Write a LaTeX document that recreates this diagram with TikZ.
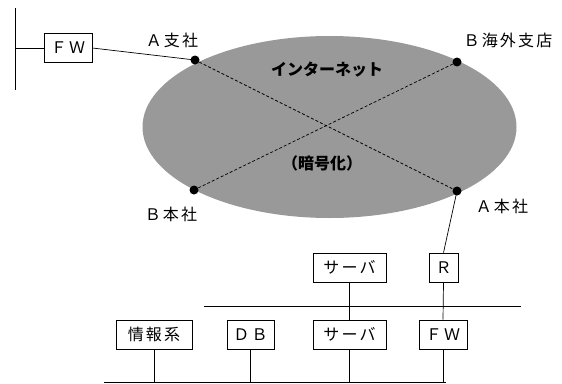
\documentclass[tikz,border=0pt]{standalone}
\usepackage{fontspec}
\setmainfont{Noto Sans CJK JP}
\newfontfamily\jpsp[LetterSpace=14]{Noto Sans CJK JP}
\usetikzlibrary{shapes.geometric}
\begin{document}
\begin{tikzpicture}[x=1pt,y=-1pt,
  box/.style={draw,line width=0.7pt,inner sep=0pt,minimum height=29pt,font=\jpsp\fontsize{16}{16}\selectfont},
  lbl/.style={font=\jpsp\fontsize{16}{16}\selectfont,inner sep=0pt},
  blbl/.style={font=\bfseries\fontsize{16}{16}\selectfont,inner sep=0pt},
  dot/.style={circle,fill=black,inner sep=0pt,minimum size=9pt},
  ln/.style={line width=0.7pt},
  dsh/.style={line width=0.7pt,dash pattern=on 3pt off 2pt}]
\useasboundingbox (0,0) rectangle (562,383);
% cloud
\node[ellipse,fill=black!40,minimum width=374pt,minimum height=182pt,inner sep=0pt] (net) at (329.5,127) {};
\node[blbl] (inet) at (327,70) {インターネット};
\node[blbl] (ango) at (322,163) {（暗号化）};
% sites
\node[dot] (as) at (195,60) {};
\node[dot] (bk) at (457,62) {};
\node[dot] (bh) at (194,190) {};
\node[dot] (ah) at (457,191) {};
\draw[dsh] (as) -- (ah);
\draw[dsh] (bk) -- (bh);
\node[lbl] (las) at (172,40) {Ａ支社};
\node[lbl] (lbk) at (508,40) {Ｂ海外支店};
\node[lbl] (lbh) at (171,214) {Ｂ本社};
\node[lbl] (lah) at (502,206) {Ａ本社};
% A branch
\coordinate (lt) at (15,8);
\coordinate (lb) at (15,90);
\coordinate (lm) at (15,48);
\draw[ln] (lt) -- (lb);
\node[box,minimum width=48pt] (fw1) at (68,48) {ＦＷ};
\draw[ln] (lm) -- (fw1.west);
\draw[ln] (fw1.east) -- (as.center);
% HQ LAN
\node[box,minimum width=73pt] (sv1) at (349.5,267.5) {サーバ};
\node[box,minimum width=29pt] (r) at (443.5,267.5) {Ｒ};
\node[box,minimum width=76pt] (info) at (154,334.5) {情報系};
\node[box,minimum width=47pt] (db) at (250.5,334.5) {ＤＢ};
\node[box,minimum width=73pt] (sv2) at (349.5,334.5) {サーバ};
\node[box,minimum width=48pt] (fw2) at (443,334.5) {ＦＷ};
\coordinate (ul) at (204,306);
\coordinate (ur) at (521,306);
\draw[ln] (ul) -- (ur);
\coordinate (bl) at (104,382);
\coordinate (br) at (446,382);
\draw[ln] (bl) -- (br);
\draw[ln] (r.north) -- (ah.center);
\draw[ln] (sv1.south) -- (sv2.north);
\draw[ln] (r.south) -- (fw2.north);
\draw[ln] (info.south) -- (info.south |- bl);
\draw[ln] (db.south) -- (db.south |- bl);
\draw[ln] (sv2.south) -- (sv2.south |- bl);
\draw[ln] (fw2.south) -- (fw2.south |- bl);
\end{tikzpicture}
\end{document}
